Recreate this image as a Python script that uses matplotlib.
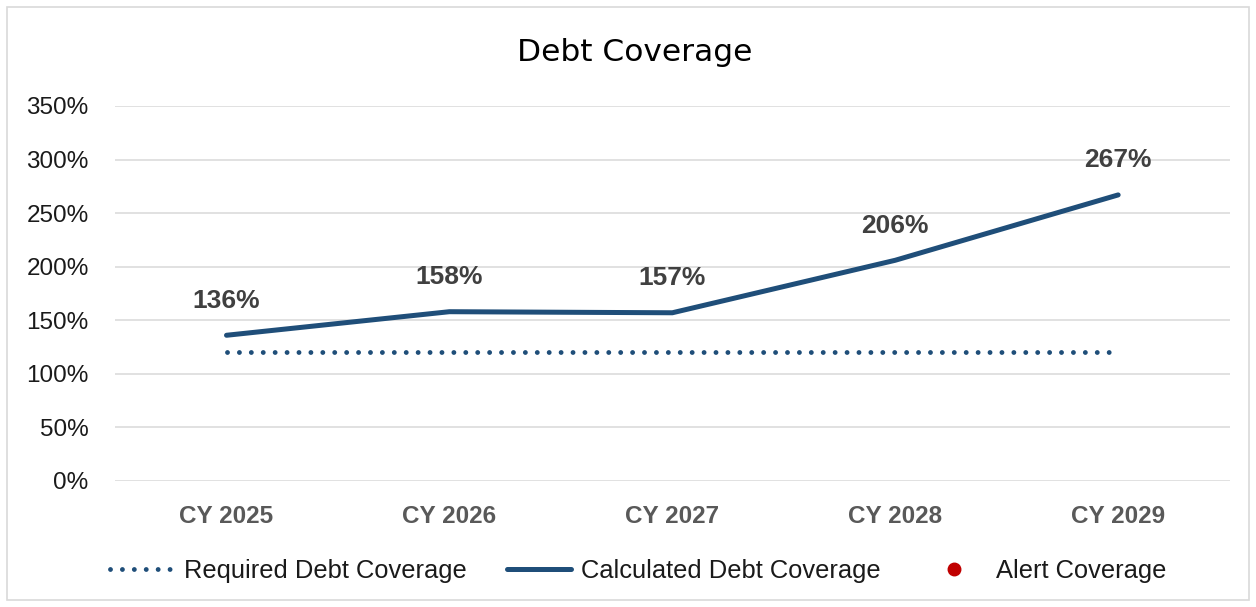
import matplotlib
matplotlib.use("Agg")
import matplotlib.pyplot as plt
from matplotlib.lines import Line2D
from matplotlib.patches import Rectangle
from matplotlib.ticker import FuncFormatter

categories = ["CY 2025", "CY 2026", "CY 2027", "CY 2028", "CY 2029"]
calculated = [136, 158, 157, 206, 267]
required = [120, 120, 120, 120, 120]
alert = [None, None, None, None, None]   # no alert points shown
y_ticks = [0, 50, 100, 150, 200, 250, 300, 350]

BLUE = "#1F4E79"
RED = "#C00000"

plt.rcParams["font.family"] = ["Liberation Sans", "DejaVu Sans"]

fig = plt.figure(figsize=(12.56, 6.07), dpi=100)
ax = fig.add_axes([0.0916, 0.2076, 0.8874, 0.6178])

x = list(range(len(categories)))
ax.plot(x, required, color=BLUE, lw=3.5, linestyle=(0, (0.001, 2.45)),
        dash_capstyle="round", label="Required Debt Coverage")
ax.plot(x, calculated, color=BLUE, lw=3.6, solid_capstyle="round",
        label="Calculated Debt Coverage")
ax.plot(x, [float("nan") if v is None else v for v in alert], "o",
        color=RED, ms=9, label="Alert Coverage")

for xi, v in zip(x, calculated):
    ax.annotate(f"{v}%", (xi, v), xytext=(0, 25), textcoords="offset points",
                ha="center", va="center", fontsize=19, fontweight="bold",
                color="#404040")

ax.set_xlim(-0.5, len(categories) - 0.5)
ax.set_ylim(0, 350)
ax.set_yticks(y_ticks)
ax.yaxis.set_major_formatter(FuncFormatter(lambda v, _: f"{v:.0f}%"))
ax.set_xticks(x)
ax.set_xticklabels(categories, fontsize=17.5, fontweight="bold", color="#595959")
ax.tick_params(axis="y", length=0, pad=19, labelsize=17.5, labelcolor="#1a1a1a")
ax.tick_params(axis="x", length=0, pad=17)
ax.grid(axis="y", color="#D9D9D9", lw=1.1)
ax.set_axisbelow(True)
for sp in ax.spines.values():
    sp.set_visible(False)

fig.text(0.505, 0.914, "Debt Coverage", ha="center", va="center",
         fontsize=22.5, family=["DejaVu Sans"], color="black")

handles = [
    Line2D([], [], color=BLUE, lw=3.5, linestyle=(0, (0.001, 2.45)), dash_capstyle="round"),
    Line2D([], [], color=BLUE, lw=3.6, solid_capstyle="round"),
    Line2D([], [], color=RED, marker="o", ms=9, linestyle="none"),
]
labels = ["Required Debt Coverage", "Calculated Debt Coverage", "Alert Coverage"]
fig.legend(handles, labels, loc="center", bbox_to_anchor=(0.508, 0.059), ncol=3,
           frameon=False, fontsize=18.4, handlelength=2.5, handletextpad=0.4,
           columnspacing=1.6, labelcolor="#1a1a1a")

fig.add_artist(Rectangle((0.0056, 0.0115), 0.9888, 0.977, transform=fig.transFigure,
                         fill=False, edgecolor="#D9D9D9", lw=1.2))

fig.savefig("out.png", dpi=100)
